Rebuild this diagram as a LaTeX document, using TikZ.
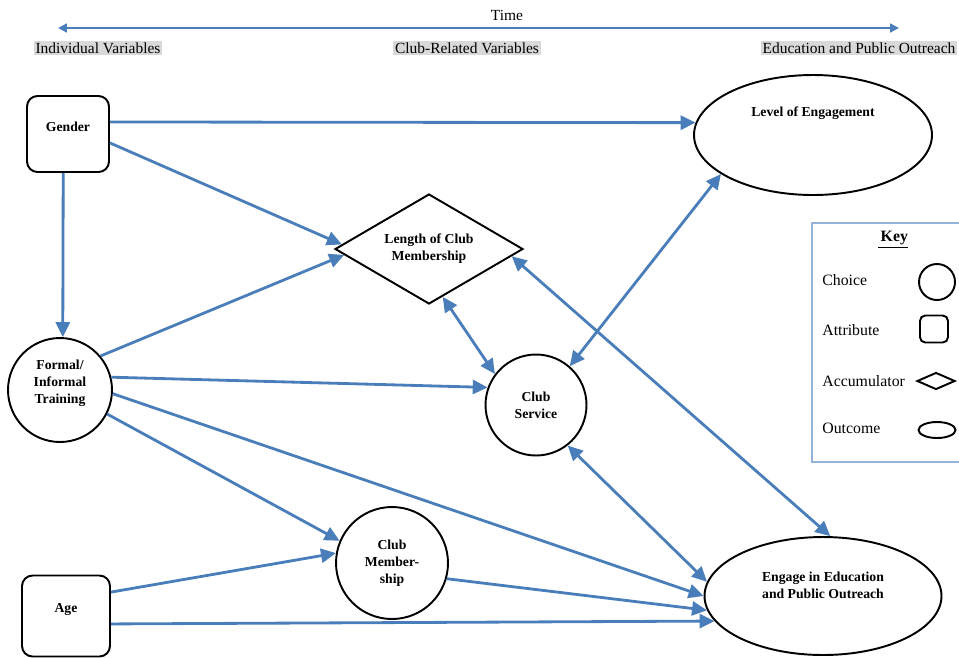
\documentclass[tikz,border=0pt]{standalone}
\usepackage{fontspec}
\setmainfont{Liberation Serif}
\usetikzlibrary{shapes,arrows.meta,positioning}

\definecolor{linkblue}{RGB}{74,126,187}
\definecolor{keyblue}{RGB}{149,179,215}
\definecolor{hilite}{RGB}{217,217,217}

\tikzset{
  attr/.style={draw, line width=1.1pt, rounded corners=6pt},
  choice/.style={draw, circle, line width=1.1pt, inner sep=0pt},
  accum/.style={draw, diamond, line width=1.1pt, inner sep=0pt, aspect=1.7},
  outcome/.style={draw, ellipse, line width=1.1pt, inner sep=0pt},
  varlabel/.style={font=\fontsize{7.8}{9.6}\selectfont\bfseries, align=center},
  head/.style={fill=hilite, inner sep=1pt, font=\fontsize{8.8}{10}\selectfont},
  keytext/.style={anchor=west, inner sep=0pt, font=\fontsize{9}{10}\selectfont},
  link/.style={draw=linkblue, line width=1.6pt, -{Triangle[length=8.5pt,width=8pt]}},
  twoway/.style={link, {Triangle[length=8.5pt,width=8pt]}-{Triangle[length=8.5pt,width=8pt]}}
}

\begin{document}
\begin{tikzpicture}[x=0.02cm,y=-0.02cm]
  \useasboundingbox (0,0) rectangle (959,657);

  \node[font=\fontsize{8.8}{10}\selectfont] (time) at (507,15) {Time};
  \coordinate (tleft) at (58,28);
  \coordinate (tright) at (899,28);
  \draw[draw=linkblue, line width=1.1pt, {Triangle[length=5pt,width=5pt]}-{Triangle[length=5pt,width=5pt]}] (tleft) -- (tright);
  \node[head] (indiv) at (98,48) {Individual Variables};
  \node[head] (clubvar) at (467,48) {Club-Related Variables};
  \node[head] (eduvar) at (859,48) {Education and Public Outreach};

  \node[attr, minimum width=1.64cm, minimum height=1.52cm, label={[varlabel,yshift=0.15cm]center:Gender}] (gender) at (68,134) {};
  \node[choice, minimum size=2.08cm, label={[varlabel,yshift=0.14cm]center:Formal/\\Informal\\Training}] (train) at (60,390) {};
  \node[attr, minimum width=1.76cm, minimum height=1.62cm, label={[varlabel,yshift=0.14cm]center:Age}] (age) at (66,616) {};
  \node[accum, varlabel, minimum width=3.76cm, minimum height=2.2cm] (lcm) at (429,249) {Length of Club\\Membership};
  \node[choice, varlabel, minimum size=2.02cm] (serv) at (536,405) {Club\\Service};
  \node[choice, varlabel, minimum size=2.24cm] (cmem) at (392,563) {Club\\Member-\\ship};
  \node[outcome, minimum width=4.76cm, minimum height=2.4cm, label={[varlabel,yshift=0.44cm]center:Level of Engagement}] (level) at (813,135) {};
  \node[outcome, minimum width=4.74cm, minimum height=2.36cm, label={[varlabel,yshift=0.22cm]center:Engage in Education\\and Public Outreach}] (eng) at (823,596) {};

  \draw[keyblue, line width=0.6pt] (812,223) rectangle (966,462);
  \node[font=\fontsize{9}{10}\selectfont\bfseries] (keytitle) at (893,240) {\underline{\,Key}};
  \node[keytext] (kchoice) at (822,280) {Choice};
  \node[keytext] (kattr) at (822,330) {Attribute};
  \node[keytext] (kaccum) at (822,381) {Accumulator};
  \node[keytext] (koutcome) at (822,428) {Outcome};
  \node[choice, minimum size=0.72cm] (schoice) at (937,282) {};
  \node[attr, rounded corners=3pt, minimum width=0.56cm, minimum height=0.54cm] (sattr) at (934,329) {};
  \node[accum, minimum width=0.76cm, minimum height=0.34cm] (saccum) at (936,381) {};
  \node[outcome, minimum width=0.74cm, minimum height=0.32cm] (soutcome) at (937,430) {};

  \draw[link] (gender.16) -- (level.174);
  \draw[link] (gender.-12) -- (lcm.177);
  \draw[link] (gender.-97) -- (train.87);
  \draw[link] (train.40) -- (lcm.184);
  \draw[link] (train.14) -- (serv.160);
  \draw[link] (train.-27) -- (cmem.157);
  \draw[link] (train.-4) -- (eng.180);
  \draw[link] (age.28) -- (cmem.170);
  \draw[link] (age.-10) -- (eng.193);
  \draw[link] (cmem.-16) -- (eng.187);
  \draw[twoway] (lcm.-74) -- (serv.143);
  \draw[twoway] (lcm.-5) -- (eng.83);
  \draw[twoway] (serv.49) -- (level.203);
  \draw[twoway] (serv.-52) -- (eng.173);
\end{tikzpicture}
\end{document}
